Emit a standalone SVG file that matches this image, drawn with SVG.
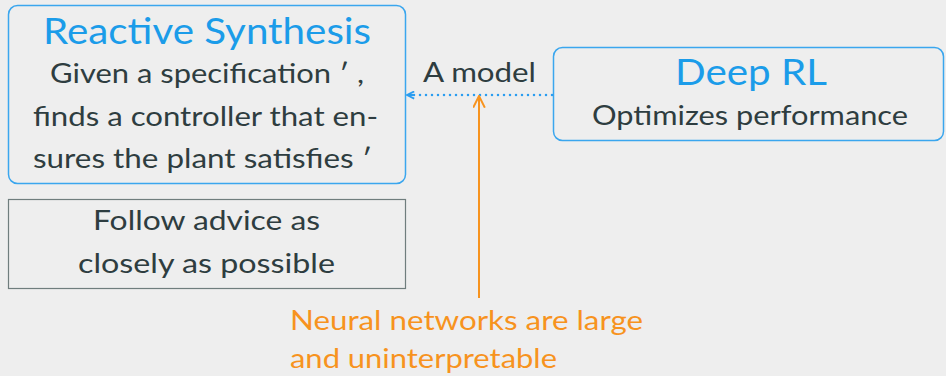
<svg xmlns="http://www.w3.org/2000/svg" width="946" height="376" viewBox="0 0 946 376">
<style>
text{font-family:Lato,"Open Sans","Liberation Sans",sans-serif}
.title{fill:#1b9ce9;font-size:36px}
.body{fill:#2e3d40;font-size:26px}
.note{fill:#f7931e;font-size:26px}
.blue{fill:none;stroke:#3aa6ee;stroke-width:1.5}
</style>
<defs>
<marker id="ah" viewBox="0 0 10 10" refX="9" refY="5" markerWidth="9" markerHeight="9" orient="auto" markerUnits="userSpaceOnUse"><path d="M1,1 L9,5 L1,9" fill="none" stroke="#2a9df0" stroke-width="2"/></marker>
<marker id="oh" viewBox="0 0 10 10" refX="9" refY="5" markerWidth="13" markerHeight="13" orient="auto" markerUnits="userSpaceOnUse"><path d="M0,0.5 L9,5 L0,9.5" fill="none" stroke="#f7931e" stroke-width="1.5"/></marker>
</defs>
<rect width="946" height="376" fill="#eeeeee"/>
<g id="reactive-synthesis">
<rect class="blue" x="8.5" y="5.5" width="397" height="178" rx="9"/>
<text class="title" x="43" y="44" textLength="328" lengthAdjust="spacingAndGlyphs">Reactive Synthesis</text>
<text class="body" x="50" y="83" textLength="314" lengthAdjust="spacingAndGlyphs">Given a specification ′ ,</text>
<text class="body" x="33" y="126" textLength="345" lengthAdjust="spacingAndGlyphs">finds a controller that en-</text>
<text class="body" x="33" y="168" textLength="339" lengthAdjust="spacingAndGlyphs">sures the plant satisfies ′</text>
</g>
<g id="deep-rl">
<rect class="blue" x="553.5" y="47.5" width="390" height="93" rx="9"/>
<text class="title" x="675" y="85" textLength="152" lengthAdjust="spacingAndGlyphs">Deep RL</text>
<text class="body" x="592" y="125" textLength="316" lengthAdjust="spacingAndGlyphs">Optimizes performance</text>
</g>
<g id="follow-advice">
<rect x="8.5" y="199.5" width="397" height="89" fill="none" stroke="#6f7d7d" stroke-width="1.2"/>
<text class="body" x="93" y="230" textLength="227" lengthAdjust="spacingAndGlyphs">Follow advice as</text>
<text class="body" x="78" y="273" textLength="257" lengthAdjust="spacingAndGlyphs">closely as possible</text>
</g>
<g id="neural-note">
<text class="note" x="290" y="330" textLength="353" lengthAdjust="spacingAndGlyphs">Neural networks are large</text>
<text class="note" x="290" y="368" textLength="267" lengthAdjust="spacingAndGlyphs">and uninterpretable</text>
</g>
<g id="connectors">
<line x1="552" y1="95" x2="412" y2="95" stroke="#2a9df0" stroke-width="2.5" stroke-linecap="round" stroke-dasharray="0,6"/>
<line x1="414" y1="95" x2="407" y2="95" stroke="#2a9df0" stroke-width="2" marker-end="url(#ah)"/>
<text class="body" x="423" y="82" textLength="113" lengthAdjust="spacingAndGlyphs">A model</text>
<line x1="479" y1="298" x2="479" y2="96" stroke="#f7931e" stroke-width="2" marker-end="url(#oh)"/>
</g>
</svg>
